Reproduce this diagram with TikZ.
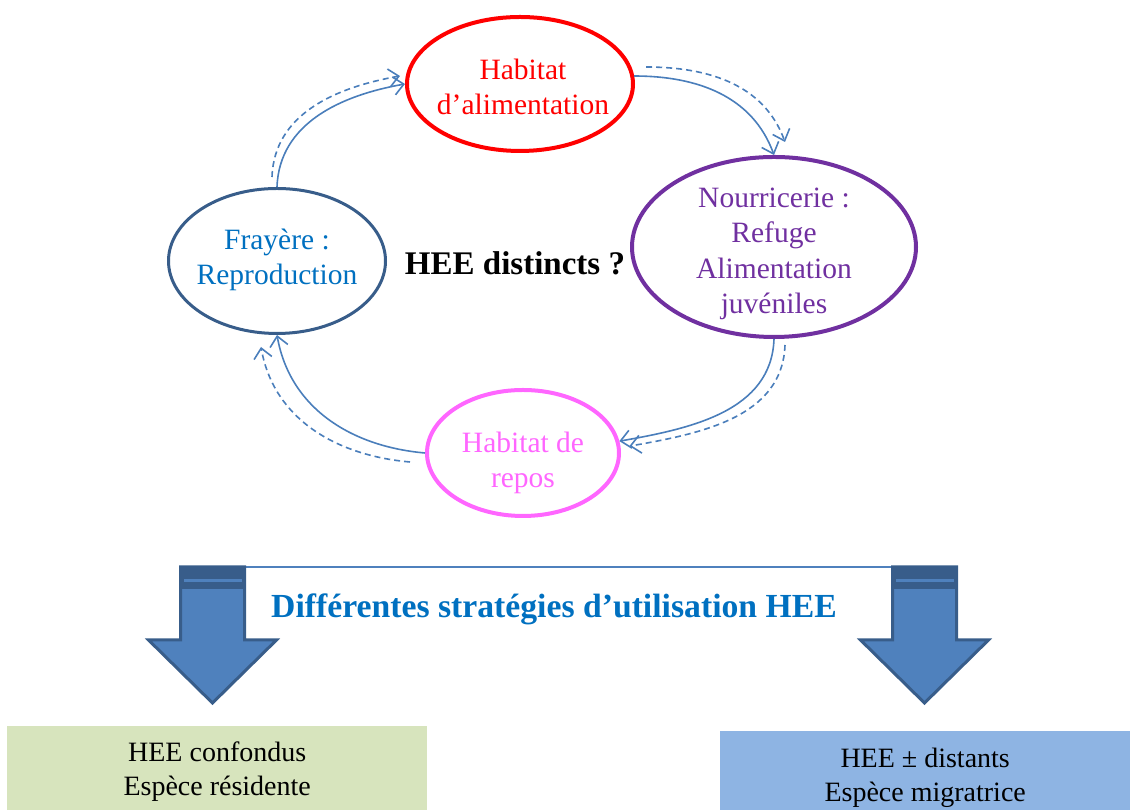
\documentclass[tikz,border=0pt]{standalone}
\usepackage{fontspec}
\setmainfont{Liberation Serif}
\usepackage{xcolor}
\usetikzlibrary{shapes.geometric, positioning, arrows.meta}
\definecolor{alimred}{RGB}{255,0,0}
\definecolor{frayline}{RGB}{56,93,138}
\definecolor{fraytext}{RGB}{0,112,192}
\definecolor{nourcol}{RGB}{112,48,160}
\definecolor{reposcol}{RGB}{255,102,255}
\definecolor{flowblue}{RGB}{74,126,187}
\definecolor{arrowfill}{RGB}{79,129,189}
\definecolor{arrowline}{RGB}{56,93,138}
\definecolor{greenbox}{RGB}{215,228,189}
\definecolor{bluebox}{RGB}{142,180,227}

\begin{document}
\begin{tikzpicture}[x=1pt,y=1pt,
  habitat/.style={ellipse,draw,line width=4pt,inner sep=0pt},
  habtext/.style={align=center,font=\fontsize{29.5}{35.5}\selectfont},
  flow/.style={draw=flowblue,line width=1.6pt,-{Straight Barb[length=10pt,width=18pt]}},
  flowdash/.style={flow,dash pattern=on 6pt off 4pt},
  bigarrow/.style={fill=arrowfill,draw=arrowline,line width=3pt,line join=miter},
  strategy/.style={inner sep=0pt,align=center,font=\fontsize{28}{34}\selectfont,anchor=north west}]
  \useasboundingbox (0,0) rectangle (1130,810);

  % habitats
  \node[habitat,draw=alimred,minimum width=226pt,minimum height=134pt] (alim) at (520,726) {};
  \node[habitat,draw=frayline,line width=3pt,minimum width=217pt,minimum height=145pt] (fray) at (277,549) {};
  \node[habitat,draw=nourcol,minimum width=284pt,minimum height=180pt] (nour) at (774,563) {};
  \node[habitat,draw=reposcol,minimum width=192pt,minimum height=126pt] (repos) at (523,357) {};

  \node[habtext,text=alimred] (alimtxt) at ([xshift=3pt,yshift=-3pt]alim) {Habitat\\d’alimentation};
  \node[habtext,text=fraytext] (fraytxt) at ([yshift=1pt]fray) {Frayère :\\Reproduction};
  \node[habtext,text=nourcol] (nourtxt) at ([yshift=-7pt]nour) {Nourricerie :\\Refuge\\Alimentation\\juvéniles};
  \node[habtext,text=reposcol] (npostxt) at ([yshift=-10pt]repos) {Habitat de\\repos};

  \node[font=\bfseries\fontsize{33}{39}\selectfont] (question) at (515,547) {HEE distincts ?};

  % cycle
  \coordinate (d1a) at ([shift={(-5,10)}]fray.90);
  \coordinate (d1b) at ([shift={(-5,8)}]alim.180);
  \coordinate (d2a) at ([shift={(12,9)}]alim.4);
  \coordinate (d2b) at ([shift={(11,13)}]nour.90);
  \coordinate (d3a) at ([shift={(11,-6)}]nour.270);
  \coordinate (d3b) at ([shift={(10,-5)}]repos.7);
  \coordinate (d4a) at ([shift={(-15,-9)}]repos.180);
  \coordinate (d4b) at ([shift={(-16,-12)}]fray.270);

  \draw[flow] (fray.90) to[out=88,in=190] (alim.180);
  \draw[flowdash] (d1a) to[out=88,in=190] (d1b);
  \draw[flow] (alim.4) to[out=0,in=110] (nour.90);
  \draw[flowdash] (d2a) to[out=0,in=110] (d2b);
  \draw[flow] (nour.270) to[out=-92,in=10] (repos.7);
  \draw[flowdash] (d3a) to[out=-92,in=10] (d3b);
  \draw[flow] (repos.180) to[out=175,in=-80] (fray.270);
  \draw[flowdash] (d4a) to[out=175,in=-80] (d4b);

  % strategies
  \foreach \cx [count=\i] in {212.5,924.5}{
    \coordinate (top\i) at (\cx,243);
  }
  \draw[arrowfill,line width=1.2pt] ([xshift=32pt]top1) -- ([xshift=-32pt]top2);
  \foreach \cx in {212.5,924.5}{
    \draw[bigarrow] (\cx-32,243) -- (\cx+32,243) -- (\cx+32,170) -- (\cx+64,170)
      -- (\cx,107) -- (\cx-64,170) -- (\cx-32,170) -- cycle;
    \fill[arrowline] (\cx-32,243) rectangle (\cx+32,221);
    \fill[arrowfill] (\cx-29,231) rectangle (\cx+29,228);
  }
  \node[font=\bfseries\fontsize{33.7}{40}\selectfont,text=fraytext] (strat) at (554,201)
    {Différentes stratégies d’utilisation HEE};

  \node[strategy,fill=greenbox,minimum width=420pt,minimum height=91pt] (resid) at (7,84)
    {HEE confondus\\Espèce résidente};
  \node[strategy,fill=bluebox,minimum width=410pt,minimum height=93pt] (migr) at (720,79)
    {HEE ± distants\\Espèce migratrice};
\end{tikzpicture}
\end{document}
